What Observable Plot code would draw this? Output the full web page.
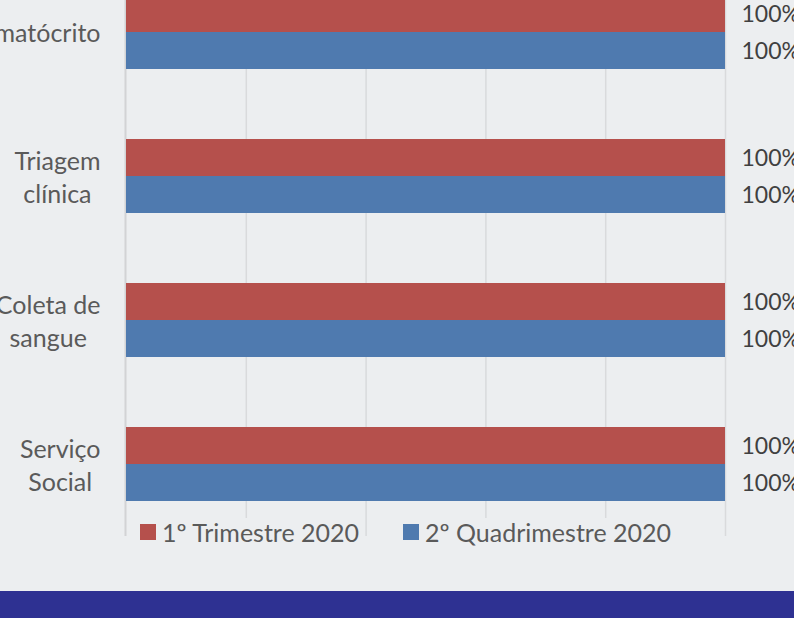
<!DOCTYPE html>
<html>
<head>
<meta charset="utf-8">
<script src="https://cdn.jsdelivr.net/npm/d3@7"></script>
<script src="https://cdn.jsdelivr.net/npm/@observablehq/plot@0.6"></script>
<style>
  html, body { margin: 0; padding: 0; background: #eceef0; }
  #page { position: relative; width: 794px; height: 618px; overflow: hidden; background: #eceef0; font-family: Lato, sans-serif; }
  #chart { position: absolute; left: 0; top: -42px; }
  #legend { position: absolute; left: 138px; top: 518px; display: flex; gap: 0; }
  .item { display: flex; align-items: center; background: #eceef0; height: 28px; padding: 0 2px; font-size: 25px; color: #5a5a5a; white-space: pre; }
  .sw { width: 16px; height: 16px; margin-right: 6px; }
  #band { position: absolute; left: 0; top: 591px; width: 794px; height: 27px; background: #2e3192; }
</style>
</head>
<body>
<div id="page">
  <div id="chart"></div>
  <div id="legend"></div>
  <div id="band"></div>
</div>
<script>
const categories = ["Hematócrito", "Triagem clínica", "Coleta de sangue", "Serviço Social"];
const categoryLabels = ["Hematócrito", "Triagem\nclínica", "Coleta de\nsangue", "Serviço\nSocial"];
const series = ["1º Trimestre 2020", "2º Quadrimestre 2020"];
const trimestre1 = [100, 100, 100, 100];
const quadrimestre2 = [100, 100, 100, 100];
const xTicks = [0, 20, 40, 60, 80, 100];
const colors = ["#b5504c", "#4f7aaf"];

const data = categories.flatMap((c, i) => [
  {cat: c, series: series[0], value: trimestre1[i]},
  {cat: c, series: series[1], value: quadrimestre2[i]}
]);

const marginLeft = 126;
const labelRight = 100;
const labelSize = 25;
const ctx = document.createElement("canvas").getContext("2d");
ctx.font = labelSize + "px Lato";
const labelDx = categoryLabels.map(l => {
  const w = Math.max(...l.split("\n").map(s => ctx.measureText(s).width));
  return (labelRight - w / 2) - marginLeft;
});

const chart = Plot.plot({
  width: 794,
  height: 579,
  marginLeft,
  marginRight: 69,
  marginTop: 0,
  marginBottom: 0,
  style: {background: "transparent", fontFamily: "Lato, sans-serif", overflow: "visible"},
  x: {domain: [0, 100], axis: null},
  fy: {domain: categories, padding: 0, axis: null},
  y: {domain: series, paddingInner: 0, paddingOuter: 0.93, axis: null},
  color: {domain: series, range: colors},
  marks: [
    Plot.ruleX(xTicks.slice(1), {stroke: "#d9dadc", strokeWidth: 1.5}),
    Plot.ruleX([0], {stroke: "#d2d3d5", strokeWidth: 2, dx: -1}),
    Plot.barX(data, {fy: "cat", y: "series", x: "value", fill: "series"}),
    Plot.text(data, {fy: "cat", y: "series", x: "value", text: d => d.value + "%", dx: 16, dy: 1, textAnchor: "start", fontSize: 23, fill: "#404040"}),
    ...categories.map((c, i) => Plot.text([c], {
      fy: d => d, frameAnchor: "left", text: () => categoryLabels[i],
      textAnchor: "middle", lineAnchor: "middle", lineHeight: 1.32,
      dx: labelDx[i], dy: -1, fontSize: labelSize, fill: "#5a5a5a"
    }))
  ]
});
document.getElementById("chart").appendChild(chart);

const legend = document.getElementById("legend");
series.forEach((s, i) => {
  const item = document.createElement("div");
  item.className = "item";
  item.style.marginRight = i === 0 ? "40px" : "0";
  const sw = document.createElement("span");
  sw.className = "sw";
  sw.style.background = colors[i];
  item.appendChild(sw);
  item.appendChild(document.createTextNode(s));
  legend.appendChild(item);
});
</script>
</body>
</html>
